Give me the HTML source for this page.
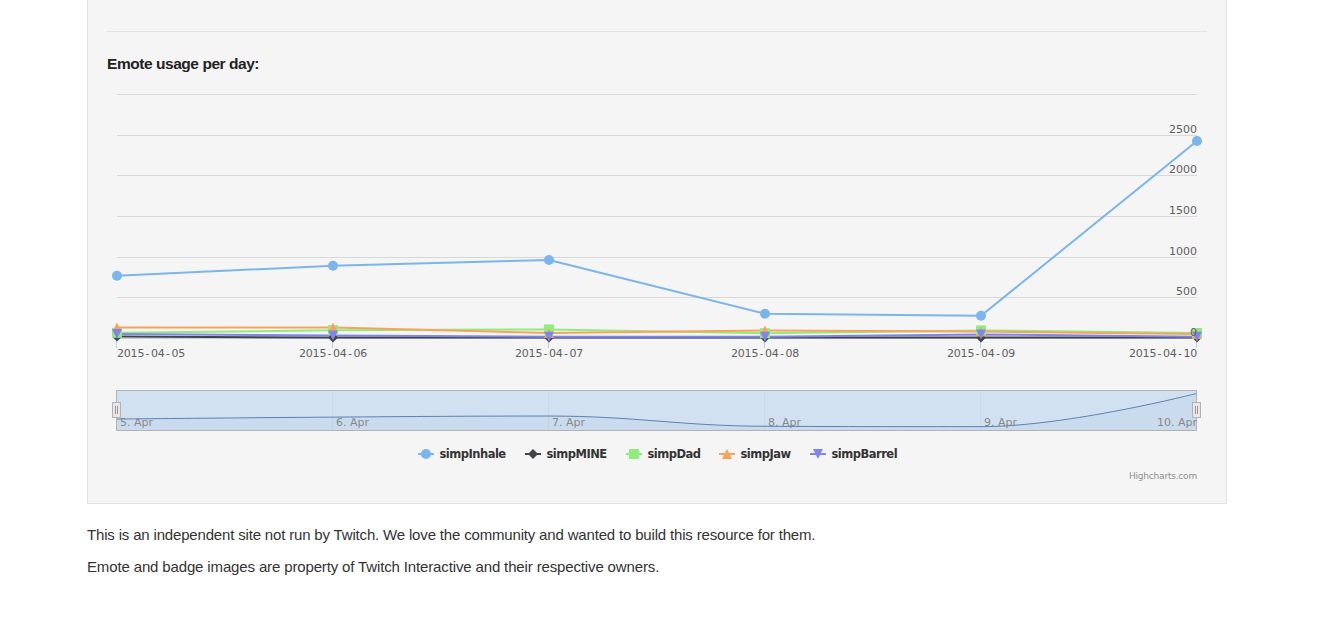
<!DOCTYPE html>
<html><head><meta charset="utf-8"><title>Emote usage</title>
<style>
html,body{margin:0;padding:0;background:#fff;}
body{width:1342px;height:641px;overflow:hidden;position:relative;font-family:"Liberation Sans",Arial,Helvetica,sans-serif;color:#333;}
.well{position:absolute;left:87px;top:-80px;width:1140px;height:584px;box-sizing:border-box;background:#f5f5f5;border:1px solid #e3e3e3;box-shadow:inset 0 1px 1px rgba(0,0,0,.05);}
.hr{position:absolute;left:107px;top:31px;width:1100px;height:0;border-top:1px solid #e3e3e3;}
h4{position:absolute;left:107px;top:55px;margin:0;font-size:15.5px;line-height:17px;font-weight:bold;color:#222;letter-spacing:-0.45px;white-space:nowrap;}
svg{position:absolute;left:0;top:0;}
.ax{font-family:"DejaVu Sans",sans-serif;font-size:11px;fill:#606060;}
.xl{letter-spacing:0.3px;}
.nl{font-family:"DejaVu Sans",sans-serif;font-size:11px;fill:#888;}
.lg{font-family:"DejaVu Sans",sans-serif;font-weight:bold;font-size:11.5px;fill:#333;letter-spacing:-0.5px;}
.cr{font-family:"DejaVu Sans",sans-serif;font-size:9px;fill:#909090;letter-spacing:-0.2px;}
p{position:absolute;left:87px;margin:0;font-size:15px;line-height:20px;white-space:nowrap;}
</style></head>
<body>
<div class="well"></div>
<div class="hr"></div>
<h4>Emote usage per day:</h4>
<svg width="1342" height="641" viewBox="0 0 1342 641">
<path d="M 117 94.5 L 1197 94.5" stroke="#d8d8d8" stroke-width="1"/>
<path d="M 117 135.5 L 1197 135.5" stroke="#d8d8d8" stroke-width="1"/>
<path d="M 117 175.5 L 1197 175.5" stroke="#d8d8d8" stroke-width="1"/>
<path d="M 117 216.5 L 1197 216.5" stroke="#d8d8d8" stroke-width="1"/>
<path d="M 117 257.5 L 1197 257.5" stroke="#d8d8d8" stroke-width="1"/>
<path d="M 117 297.5 L 1197 297.5" stroke="#d8d8d8" stroke-width="1"/>
<path d="M 117 338.5 L 1197 338.5" stroke="#c0d0e0" stroke-width="1"/>
<path d="M 116.5 338 L 116.5 348" stroke="#c0d0e0" stroke-width="1"/>
<path d="M 332.5 338 L 332.5 348" stroke="#c0d0e0" stroke-width="1"/>
<path d="M 548.5 338 L 548.5 348" stroke="#c0d0e0" stroke-width="1"/>
<path d="M 764.5 338 L 764.5 348" stroke="#c0d0e0" stroke-width="1"/>
<path d="M 980.5 338 L 980.5 348" stroke="#c0d0e0" stroke-width="1"/>
<path d="M 1196.5 338 L 1196.5 348" stroke="#c0d0e0" stroke-width="1"/>
<path d="M 117 275.80 L 333 265.70 L 549 260.00 L 765 313.80 L 981 315.80 L 1197 141.00" fill="none" stroke="#7cb5ec" stroke-width="2" stroke-linejoin="round" stroke-linecap="round"/>
<path d="M 117 336.50 L 333 337.60 L 549 337.60 L 765 337.60 L 981 337.60 L 1197 337.40" fill="none" stroke="#434348" stroke-width="2" stroke-linejoin="round" stroke-linecap="round"/>
<path d="M 117 332.80 L 333 330.20 L 549 329.40 L 765 333.20 L 981 330.40 L 1197 333.00" fill="none" stroke="#90ed7d" stroke-width="2" stroke-linejoin="round" stroke-linecap="round"/>
<path d="M 117 327.50 L 333 327.50 L 549 333.00 L 765 330.60 L 981 331.50 L 1197 334.00" fill="none" stroke="#f7a35c" stroke-width="2" stroke-linejoin="round" stroke-linecap="round"/>
<path d="M 117 334.10 L 333 335.50 L 549 336.70 L 765 336.80 L 981 334.40 L 1197 336.80" fill="none" stroke="#8085e9" stroke-width="2" stroke-linejoin="round" stroke-linecap="round"/>
<circle cx="117" cy="275.80" r="5" fill="#7cb5ec"/>
<circle cx="333" cy="265.70" r="5" fill="#7cb5ec"/>
<circle cx="549" cy="260.00" r="5" fill="#7cb5ec"/>
<circle cx="765" cy="313.80" r="5" fill="#7cb5ec"/>
<circle cx="981" cy="315.80" r="5" fill="#7cb5ec"/>
<circle cx="1197" cy="141.00" r="5" fill="#7cb5ec"/>
<path d="M 117 331.50 L 122 336.50 L 117 341.50 L 112 336.50 Z" fill="#434348"/>
<path d="M 333 332.60 L 338 337.60 L 333 342.60 L 328 337.60 Z" fill="#434348"/>
<path d="M 549 332.60 L 554 337.60 L 549 342.60 L 544 337.60 Z" fill="#434348"/>
<path d="M 765 332.60 L 770 337.60 L 765 342.60 L 760 337.60 Z" fill="#434348"/>
<path d="M 981 332.60 L 986 337.60 L 981 342.60 L 976 337.60 Z" fill="#434348"/>
<path d="M 1197 332.40 L 1202 337.40 L 1197 342.40 L 1192 337.40 Z" fill="#434348"/>
<rect x="112" y="327.80" width="10" height="10" fill="#90ed7d"/>
<rect x="328" y="325.20" width="10" height="10" fill="#90ed7d"/>
<rect x="544" y="324.40" width="10" height="10" fill="#90ed7d"/>
<rect x="760" y="328.20" width="10" height="10" fill="#90ed7d"/>
<rect x="976" y="325.40" width="10" height="10" fill="#90ed7d"/>
<rect x="1192" y="328.00" width="10" height="10" fill="#90ed7d"/>
<path d="M 117 322.50 L 122 332.50 L 112 332.50 Z" fill="#f7a35c"/>
<path d="M 333 322.50 L 338 332.50 L 328 332.50 Z" fill="#f7a35c"/>
<path d="M 549 328.00 L 554 338.00 L 544 338.00 Z" fill="#f7a35c"/>
<path d="M 765 325.60 L 770 335.60 L 760 335.60 Z" fill="#f7a35c"/>
<path d="M 981 326.50 L 986 336.50 L 976 336.50 Z" fill="#f7a35c"/>
<path d="M 1197 329.00 L 1202 339.00 L 1192 339.00 Z" fill="#f7a35c"/>
<path d="M 112 329.10 L 122 329.10 L 117 339.10 Z" fill="#8085e9"/>
<path d="M 328 330.50 L 338 330.50 L 333 340.50 Z" fill="#8085e9"/>
<path d="M 544 331.70 L 554 331.70 L 549 341.70 Z" fill="#8085e9"/>
<path d="M 760 331.80 L 770 331.80 L 765 341.80 Z" fill="#8085e9"/>
<path d="M 976 329.40 L 986 329.40 L 981 339.40 Z" fill="#8085e9"/>
<path d="M 1192 331.80 L 1202 331.80 L 1197 341.80 Z" fill="#8085e9"/>
<text x="1197" y="133" text-anchor="end" class="ax">2500</text>
<text x="1197" y="173" text-anchor="end" class="ax">2000</text>
<text x="1197" y="214" text-anchor="end" class="ax">1500</text>
<text x="1197" y="255" text-anchor="end" class="ax">1000</text>
<text x="1197" y="295" text-anchor="end" class="ax">500</text>
<text x="1197" y="336" text-anchor="end" class="ax">0</text>
<text x="117.0 123.8 130.6 137.4 145.5 151.0 157.8 165.9 171.4 178.2" y="357" class="ax">2015-04-05</text>
<text x="299.0 305.8 312.6 319.4 327.5 333.0 339.8 347.9 353.4 360.2" y="357" class="ax">2015-04-06</text>
<text x="515.0 521.8 528.6 535.4 543.5 549.0 555.8 563.9 569.4 576.2" y="357" class="ax">2015-04-07</text>
<text x="731.0 737.8 744.6 751.4 759.5 765.0 771.8 779.9 785.4 792.2" y="357" class="ax">2015-04-08</text>
<text x="947.0 953.8 960.6 967.4 975.5 981.0 987.8 995.9 1001.4 1008.2" y="357" class="ax">2015-04-09</text>
<text x="1129.0 1135.8 1142.6 1149.4 1157.5 1163.0 1169.8 1177.9 1183.4 1190.2" y="357" class="ax">2015-04-10</text>
<path d="M 332.5 391 L 332.5 430" stroke="#ebebeb" stroke-width="1"/>
<path d="M 548.5 391 L 548.5 430" stroke="#ebebeb" stroke-width="1"/>
<path d="M 764.5 391 L 764.5 430" stroke="#ebebeb" stroke-width="1"/>
<path d="M 980.5 391 L 980.5 430" stroke="#ebebeb" stroke-width="1"/>
<rect x="116.5" y="390.5" width="1080" height="40" fill="rgba(128,179,236,0.3)"/>
<path d="M 117 419.04 C 117.00 419.04 246.60 417.72 333 417.11 C 419.40 416.51 462.60 416.03 549 416.03 C 635.40 416.03 678.60 425.90 765 426.29 C 851.40 426.67 894.60 426.67 981 426.67 C 1067.40 426.67 1197.00 393.33 1197 393.33 L 1197 430 L 117 430 Z" fill="#4572A7" fill-opacity="0.05"/>
<path d="M 117 419.04 C 117.00 419.04 246.60 417.72 333 417.11 C 419.40 416.51 462.60 416.03 549 416.03 C 635.40 416.03 678.60 425.90 765 426.29 C 851.40 426.67 894.60 426.67 981 426.67 C 1067.40 426.67 1197.00 393.33 1197 393.33" fill="none" stroke="#4572A7" stroke-opacity="0.85" stroke-width="1"/>
<path d="M 116.5 430.5 L 116.5 390.5 L 1196.5 390.5 L 1196.5 430.5 Z" fill="none" stroke="#b2b1b6" stroke-width="1"/>
<text x="120" y="426" class="nl">5. Apr</text>
<text x="336" y="426" class="nl">6. Apr</text>
<text x="552" y="426" class="nl">7. Apr</text>
<text x="768" y="426" class="nl">8. Apr</text>
<text x="984" y="426" class="nl">9. Apr</text>
<text x="1197" y="426" text-anchor="end" class="nl">10. Apr</text>
<rect x="112.5" y="402.5" width="8" height="15" fill="#ebe7e8" stroke="#b2b1b6" stroke-width="1"/>
<path d="M 115.5 406 L 115.5 414 M 117.5 406 L 117.5 414" stroke="#999" stroke-width="1"/>
<rect x="1192.5" y="402.5" width="8" height="15" fill="#ebe7e8" stroke="#b2b1b6" stroke-width="1"/>
<path d="M 1195.5 406 L 1195.5 414 M 1197.5 406 L 1197.5 414" stroke="#999" stroke-width="1"/>
<path d="M 418 454 L 434 454" stroke="#7cb5ec" stroke-width="2"/>
<circle cx="426" cy="454.00" r="5" fill="#7cb5ec"/>
<text x="439.5" y="458" class="lg">simpInhale</text>
<path d="M 525 454 L 541 454" stroke="#434348" stroke-width="2"/>
<path d="M 533 449.00 L 538 454.00 L 533 459.00 L 528 454.00 Z" fill="#434348"/>
<text x="546.5" y="458" class="lg">simpMINE</text>
<path d="M 626 454 L 642 454" stroke="#90ed7d" stroke-width="2"/>
<rect x="629" y="449.00" width="10" height="10" fill="#90ed7d"/>
<text x="647.5" y="458" class="lg">simpDad</text>
<path d="M 719 454 L 735 454" stroke="#f7a35c" stroke-width="2"/>
<path d="M 727 449.00 L 732 459.00 L 722 459.00 Z" fill="#f7a35c"/>
<text x="740.5" y="458" class="lg">simpJaw</text>
<path d="M 810 454 L 826 454" stroke="#8085e9" stroke-width="2"/>
<path d="M 813 449.00 L 823 449.00 L 818 459.00 Z" fill="#8085e9"/>
<text x="831.5" y="458" class="lg">simpBarrel</text>
<text x="1197" y="479" text-anchor="end" class="cr">Highcharts.com</text>
</svg>
<p style="top:525px;letter-spacing:-0.17px">This is an independent site not run by Twitch. We love the community and wanted to build this resource for them.</p>
<p style="top:557px;letter-spacing:-0.14px">Emote and badge images are property of Twitch Interactive and their respective owners.</p>
</body></html>
